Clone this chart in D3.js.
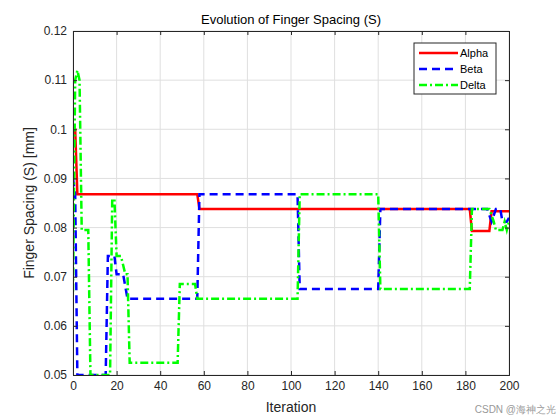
<!DOCTYPE html>
<html><head><meta charset="utf-8">
<script src="https://cdn.jsdelivr.net/npm/d3@7"></script>
<style>body{margin:0;background:#fff}text{font-family:Arial,"Liberation Sans",sans-serif}</style>
</head><body>
<svg id="c" width="560" height="420"></svg>
<script>
// [iteration, spacing] pairs
var alpha = [[0,0.1],[1,0.1],[2,0.0868],[57,0.0868],[58,0.0838],[182,0.0838],[183,0.0793],[191,0.0793],[192,0.0833],[200,0.0833]];
var beta = [[0,0.09],[1,0.0868],[2,0.05],[15,0.05],[16,0.0742],[19,0.0742],[20,0.0705],[23,0.0705],[25,0.0655],[57,0.0655],[58,0.0868],[103,0.0868],[104,0.0675],[140,0.0675],[141,0.0838],[190,0.0838],[192,0.0812],[194,0.0838],[196,0.0838],[197,0.0812],[199,0.0812],[200,0.082]];
var delta = [[0,0.067],[1,0.11],[2,0.112],[3,0.11],[4,0.0795],[7,0.0795],[8,0.05],[17,0.05],[18,0.0858],[19,0.0858],[20,0.0742],[22,0.0742],[24,0.0705],[25,0.0705],[26,0.0525],[48,0.0525],[49,0.0685],[56,0.0685],[57,0.0655],[103,0.0655],[104,0.0868],[140,0.0868],[141,0.0675],[182,0.0675],[183,0.0838],[191,0.0838],[193,0.0812],[194,0.0795],[197,0.0795],[198,0.0812],[199,0.0795],[200,0.0812]];
var series = [{name:"Alpha",data:alpha,color:"#ff0000",dash:null},
              {name:"Beta",data:beta,color:"#0000ff",dash:"8,5"},
              {name:"Delta",data:delta,color:"#00ff00",dash:"8,3,2,3"}];
var xTicks = d3.range(0,201,20);
var yTicks = [0.05,0.06,0.07,0.08,0.09,0.1,0.11,0.12];

var L=73,R=509,T=31,B=375;
var svg = d3.select("#c");
var x = d3.scaleLinear().domain([0,200]).range([L,R]);
var y = d3.scaleLinear().domain([0.05,0.12]).range([B,T]);

svg.append("g").selectAll("line").data(xTicks).join("line")
  .attr("x1",d=>x(d)).attr("x2",d=>x(d)).attr("y1",T).attr("y2",B).attr("stroke","#dfdfdf");
svg.append("g").selectAll("line").data(yTicks).join("line")
  .attr("y1",d=>y(d)).attr("y2",d=>y(d)).attr("x1",L).attr("x2",R).attr("stroke","#dfdfdf");

var clip = svg.append("clipPath").attr("id","cp").append("rect").attr("x",L).attr("y",T).attr("width",R-L).attr("height",B-T);
var line = d3.line().x(d=>x(d[0])).y(d=>y(d[1]));
series.forEach(function(s){
  svg.append("path").datum(s.data).attr("d",line).attr("fill","none")
    .attr("stroke",s.color).attr("stroke-width",2.5).attr("stroke-dasharray",s.dash)
    .attr("clip-path","url(#cp)");
});

var ax = svg.append("g").attr("transform","translate(0,"+B+")")
  .call(d3.axisBottom(x).tickValues(xTicks).tickSize(-4).tickPadding(6));
svg.append("g").attr("transform","translate(0,"+T+")")
  .call(d3.axisTop(x).tickValues(xTicks).tickSize(-4).tickFormat(""));
var ay = svg.append("g").attr("transform","translate("+L+",0)")
  .call(d3.axisLeft(y).tickValues(yTicks).tickSize(-4).tickPadding(6).tickFormat(d3.format("")));
svg.append("g").attr("transform","translate("+R+",0)")
  .call(d3.axisRight(y).tickValues(yTicks).tickSize(-4).tickFormat(""));
svg.selectAll(".domain").attr("stroke","#262626");
svg.selectAll(".tick line").attr("stroke","#262626");
svg.selectAll(".tick text").attr("font-size",12).attr("fill","#262626");

svg.append("text").attr("x",(L+R)/2).attr("y",24).attr("text-anchor","middle")
  .attr("font-size",13).attr("fill","#000").text("Evolution of Finger Spacing (S)");
svg.append("text").attr("x",(L+R)/2).attr("y",412).attr("text-anchor","middle")
  .attr("font-size",14).attr("fill","#262626").text("Iteration");
svg.append("text").attr("transform","translate(34,"+((T+B)/2)+") rotate(-90)").attr("text-anchor","middle")
  .attr("font-size",14).attr("fill","#262626").text("Finger Spacing (S) [mm]");

var lg = svg.append("g").attr("transform","translate(414,43)");
lg.append("rect").attr("width",82).attr("height",51).attr("fill","#fff").attr("stroke","#262626");
series.forEach(function(s,i){
  var yy = 10+i*16;
  lg.append("line").attr("x1",5).attr("x2",44).attr("y1",yy).attr("y2",yy)
    .attr("stroke",s.color).attr("stroke-width",2.5).attr("stroke-dasharray",s.dash);
  lg.append("text").attr("x",46).attr("y",yy+4).attr("font-size",11).attr("fill","#000").text(s.name);
});

svg.append("text").attr("x",556).attr("y",413).attr("text-anchor","end")
  .attr("font-size",10).attr("fill","#999").attr("font-family","'Noto Sans CJK SC',sans-serif").text("CSDN @海神之光");
</script>
</body></html>
